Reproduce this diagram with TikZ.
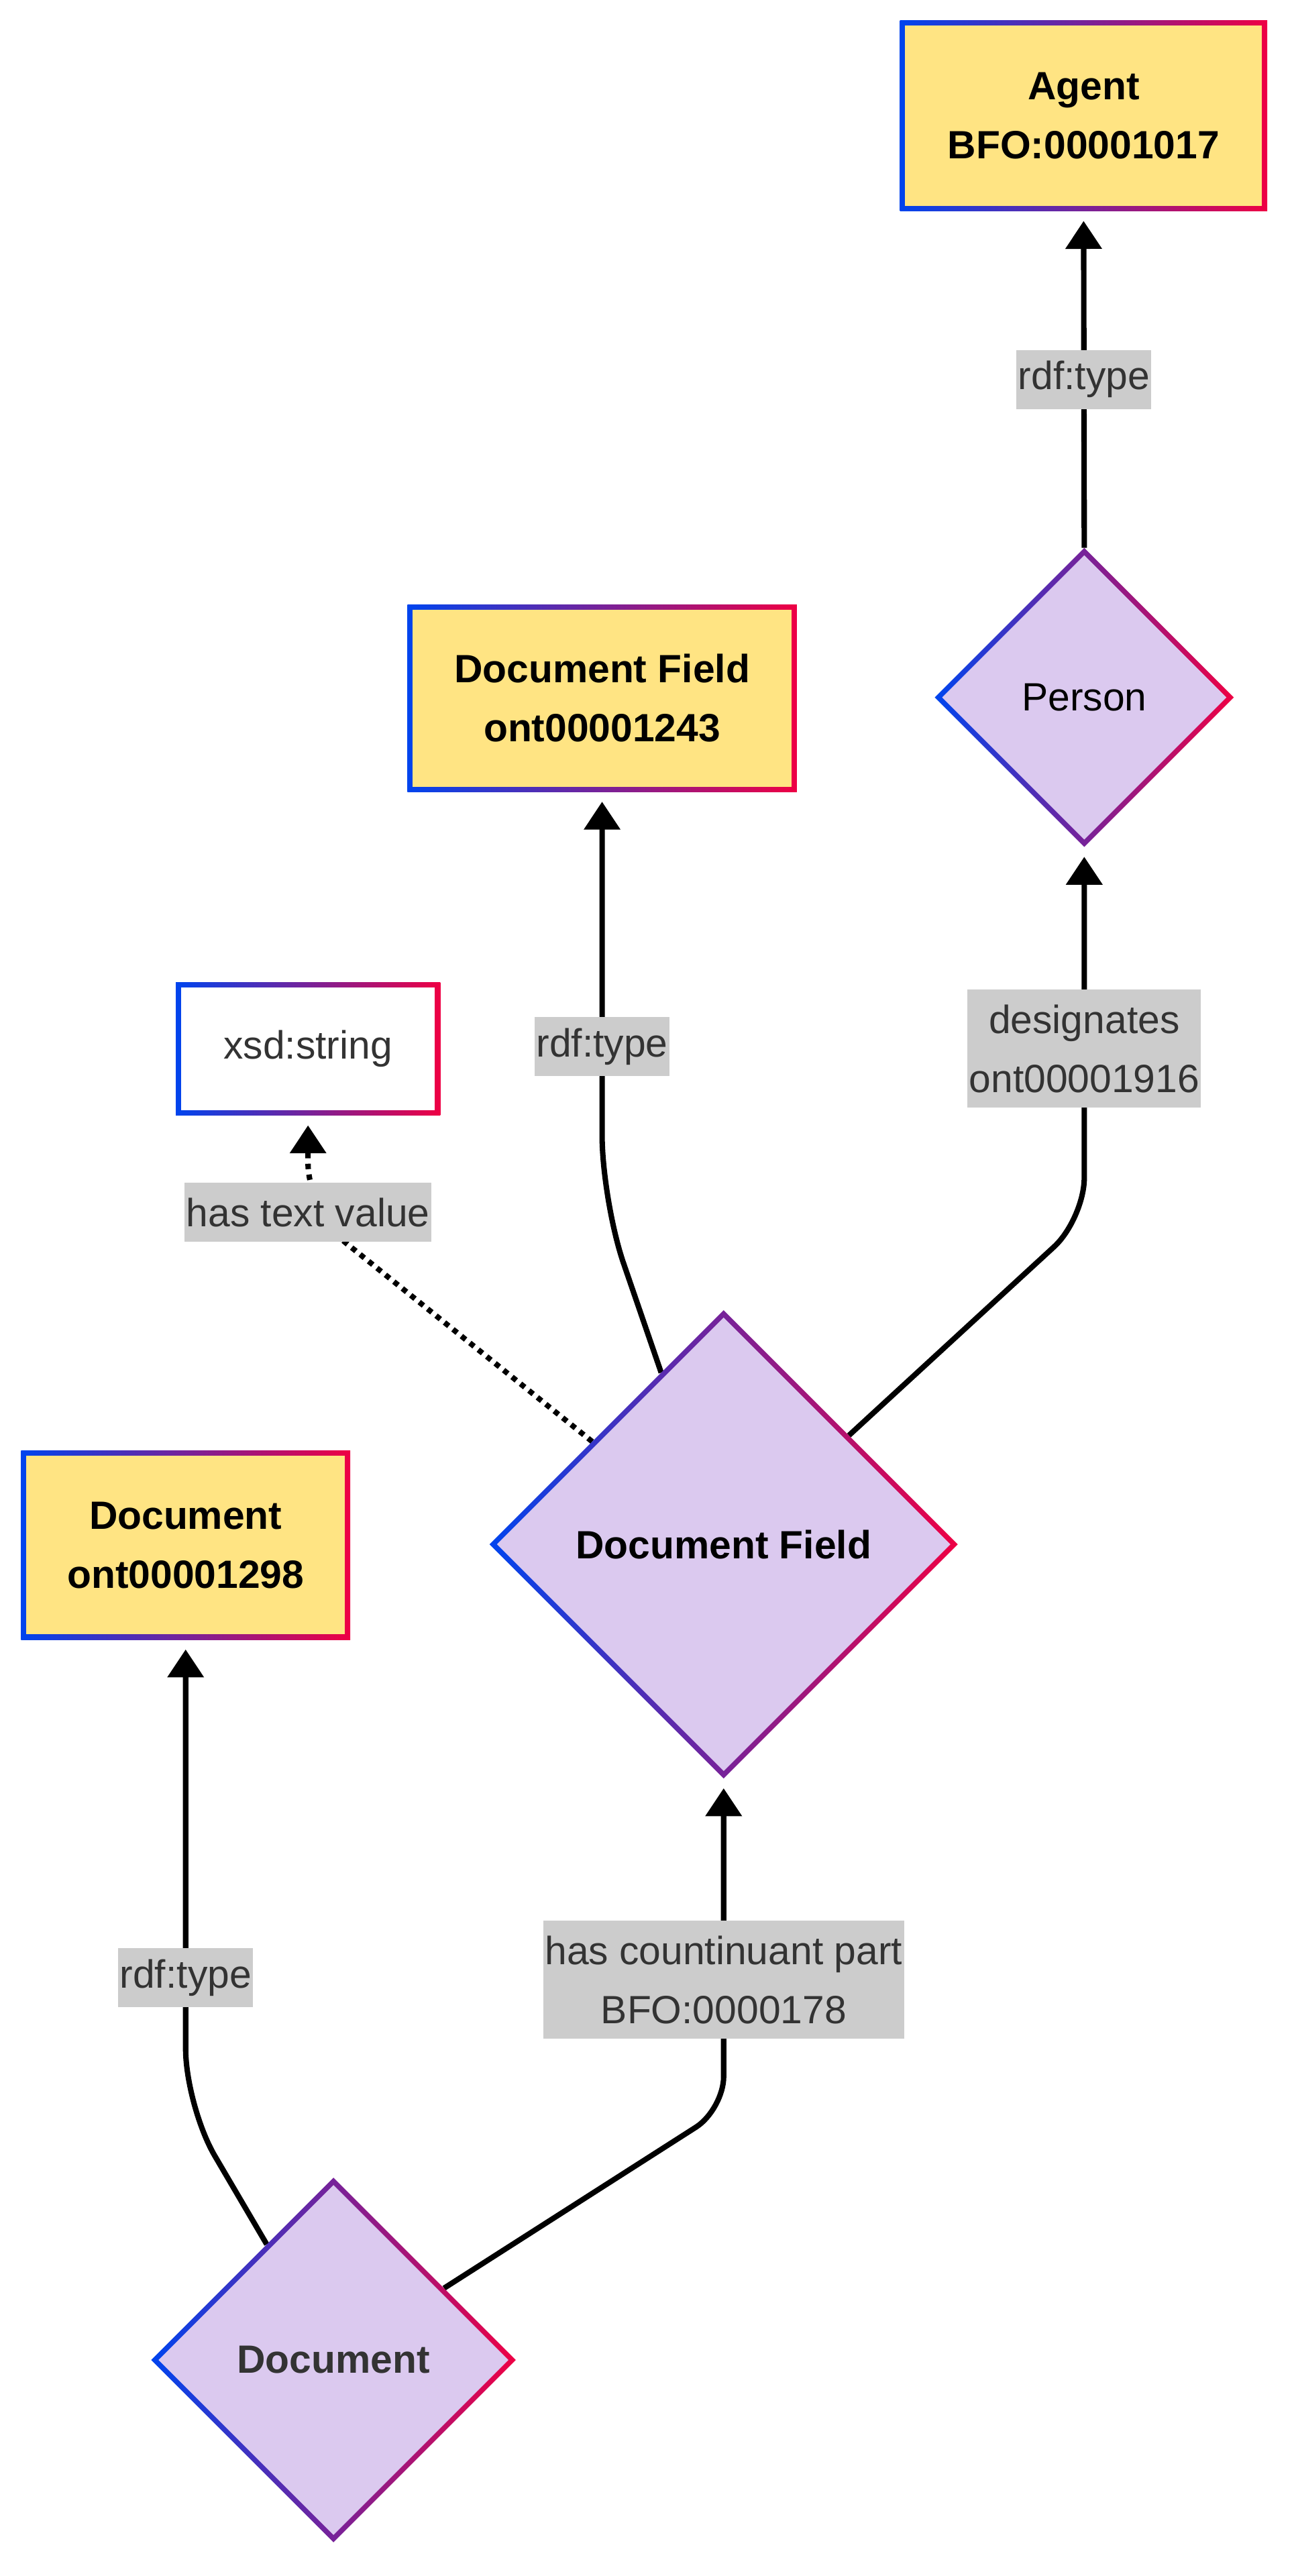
\documentclass[tikz,border=0pt]{standalone}
\usepackage{fontspec}
\setmainfont{Liberation Sans}
\usetikzlibrary{shapes.geometric,arrows.meta,calc}
\definecolor{gblue}{HTML}{0044EE}
\definecolor{gred}{HTML}{EE0044}
\definecolor{yel}{HTML}{FFE483}
\definecolor{lav}{HTML}{DBC9EF}
\definecolor{lgray}{HTML}{CCCCCC}
\definecolor{tgray}{HTML}{333333}
\pgfdeclarelayer{bg}
\pgfsetlayers{bg,main}
\tikzset{
  base/.style={inner sep=0pt, outer sep=0pt, left color=gblue, right color=gred,
    align=center, font=\fontsize{24}{36}\selectfont},
  bold/.style={font=\fontsize{24}{36}\selectfont\bfseries},
  cbox/.style={base, rectangle,
    path picture={\fill[#1] ($(path picture bounding box.south west)+(3.2pt,3.2pt)$) rectangle ($(path picture bounding box.north east)+(-3.2pt,-3.2pt)$);}},
  cdia/.style={base, diamond, aspect=1,
    path picture={\fill[#1] ($(path picture bounding box.north)+(0,-4.5pt)$) -- ($(path picture bounding box.east)+(-4.5pt,0)$) -- ($(path picture bounding box.south)+(0,4.5pt)$) -- ($(path picture bounding box.west)+(4.5pt,0)$) -- cycle;}},
  edge/.style={line width=3.3pt, -{Triangle[width=21.6pt,length=17pt]}, shorten >=6pt},
  dotline/.style={dash pattern=on 3.3pt off 3.3pt},
  lbl/.style={sharp corners, fill=lgray, text=tgray, inner xsep=1pt, inner ysep=0pt, minimum height=36pt,
    font=\fontsize{24}{36}\selectfont, align=center},
  lbltwo/.style={lbl, minimum height=72pt},
}
\begin{document}
\begin{tikzpicture}[x=1pt, y=-1pt]
\useasboundingbox (0,0) rectangle (787.3,1568);
\begin{pgfonlayer}{bg}
\fill[white] (0,0) rectangle (787.3,1568);
\end{pgfonlayer}

\node[cbox=yel, minimum width=223.6pt, minimum height=116pt, bold] (agent) at (659.6,70.5) {Agent\\BFO:00001017};
\node[cdia=lav, minimum size=182pt] (pd) at (660,424.5) {Person};
\node[cbox=yel, minimum width=237pt, minimum height=114pt, bold] (dfb) at (366.5,425) {Document Field\\ont00001243};
\node[cbox=white, minimum width=161pt, minimum height=81pt, text=tgray] (xsd) at (187.5,638.5) {xsd:string};
\node[cdia=lav, minimum size=285pt, bold] (dfd) at (440.5,940) {Document Field};
\node[cbox=yel, minimum width=200.3pt, minimum height=115pt, bold] (docb) at (113,940.5) {Document\\ont00001298};
\node[cdia=lav, minimum size=222pt, bold, text=tgray] (docd) at (203,1436.5) {Document};

\begin{pgfonlayer}{bg}
\draw[edge] (pd.north) -- node[lbl]{rdf:type} (agent.south);
\draw[edge, rounded corners=40pt] (dfd.110) -- (366.5,731) -- node[lbl,pos=0.377]{rdf:type} (dfb.south);
\draw[edge, dotline, rounded corners=30pt] (dfd.142) -- (187.5,738) node[lbl]{has text value} -- (xsd.south);
\draw[edge, rounded corners=25pt] (dfd.41) -- (660,742) -- node[lbltwo,pos=0.458]{designates\\ont00001916} (pd.south);
\draw[edge, rounded corners=35pt] (docd.120) -- (113,1282) -- node[lbl,pos=0.275]{rdf:type} (docb.south);
\draw[edge, rounded corners=20pt] (docd.33) -- (440.5,1284) -- node[lbltwo,pos=0.392]{has countinuant part\\BFO:0000178} (dfd.south);
\end{pgfonlayer}
\end{tikzpicture}
\end{document}
